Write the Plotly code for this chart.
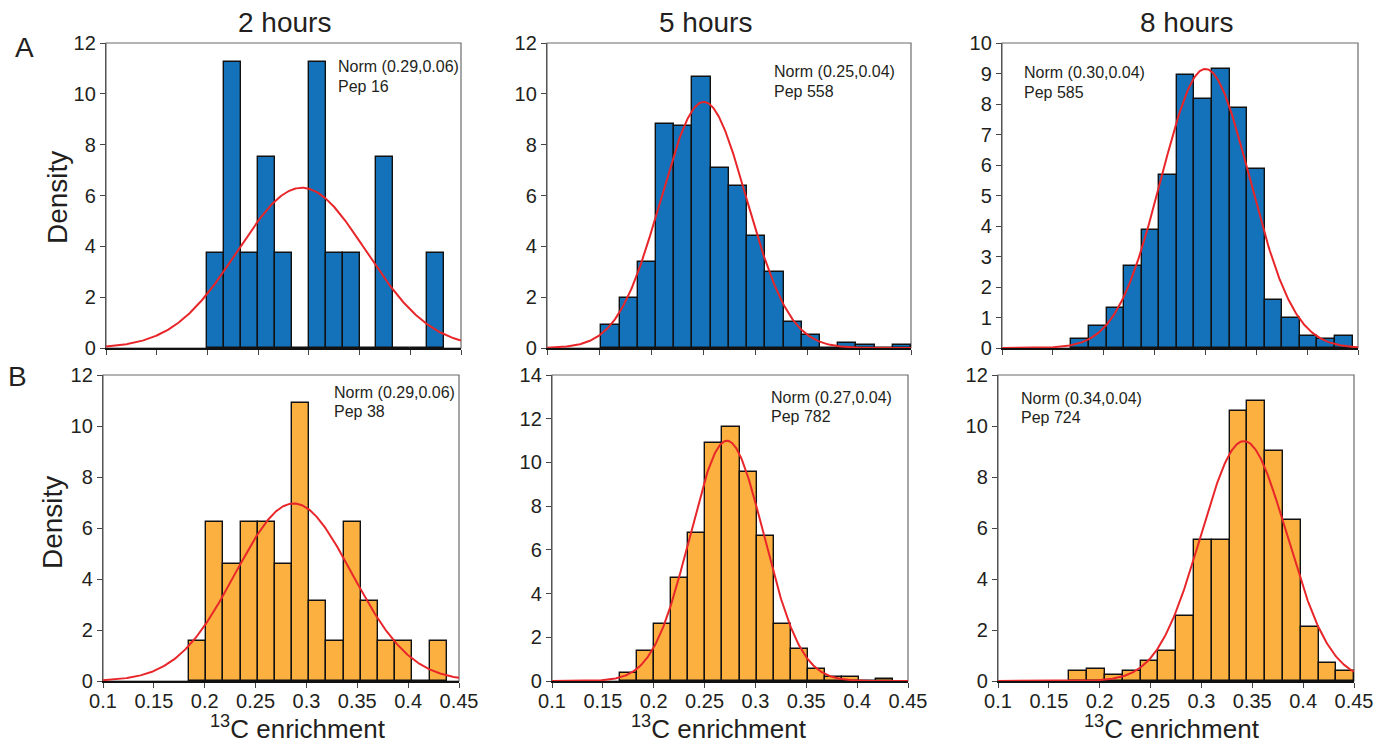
import numpy as np
import plotly.graph_objects as go

W, H = 1395, 744

# ---------------- data ----------------
col_titles = ["2 hours", "5 hours", "8 hours"]
row_labels = ["A", "B"]

# histogram bins: first left edge, bin width, densities
a1_start, a1_w = 0.2, 1 / 60
a1_vals = [3.75, 11.25, 3.75, 7.5, 3.75, 0, 11.25, 3.75, 3.75, 0, 7.5, 0, 0, 3.75]

a2_start, a2_w = 0.1523, 0.01751
a2_vals = [0.92, 1.95, 3.38, 8.83, 8.73, 10.68, 7.08, 6.37, 4.41, 2.98, 1.02, 0.52,
           0.0, 0.2, 0.12, 0.0, 0.12]

a3_start, a3_w = 0.1683, 0.01727
a3_vals = [0.30, 0.71, 1.30, 2.69, 3.88, 5.66, 8.95, 8.15, 9.14, 7.86, 5.86, 1.58,
           0.99, 0.39, 0.30, 0.39]

b1_start, b1_w = 0.1845, 0.0169
b1_vals = [1.56, 6.22, 4.58, 6.22, 6.22, 4.58, 10.89, 3.13, 1.56, 6.22, 3.13, 1.56,
           1.56, 0, 1.56]

b2_start, b2_w = 0.1668, 0.0168
b2_vals = [0.38, 1.37, 2.60, 4.72, 6.78, 10.87, 11.63, 9.57, 6.63, 2.60, 1.47, 0.55,
           0.18, 0.18, 0.0, 0.10]

b3_start, b3_w = 0.1702, 0.0175
b3_vals = [0.39, 0.47, 0.25, 0.39, 0.79, 1.18, 2.53, 5.52, 5.52, 10.59, 10.98, 9.02,
           6.31, 2.13, 0.71, 0.38]

# fitted normal curves (mean, sd)
norm_mean = [0.293, 0.2507, 0.300, 0.2874, 0.272, 0.3418]
norm_sd = [0.0633, 0.0412, 0.0436, 0.0573, 0.0363, 0.0424]

norm_text = ["Norm (0.29,0.06)", "Norm (0.25,0.04)", "Norm (0.30,0.04)",
             "Norm (0.29,0.06)", "Norm (0.27,0.04)", "Norm (0.34,0.04)"]
pep_text = ["Pep 16", "Pep 558", "Pep 585", "Pep 38", "Pep 782", "Pep 724"]

x_ticks = [0.1, 0.15, 0.2, 0.25, 0.3, 0.35, 0.4, 0.45]
x_ticklabels = ["0.1", "0.15", "0.2", "0.25", "0.3", "0.35", "0.4", "0.45"]
y_max = [12, 12, 10, 12, 14, 12]
y_step = [2, 2, 1, 2, 2, 2]

# ---------------- layout geometry (pixels) ----------------
panels_px = [
    (106, 461, 43, 348), (547, 911, 43, 348), (1002, 1358, 43, 348),
    (103, 459, 375, 681), (552, 908, 375, 681), (998, 1354, 375, 681),
]
note_px = [(336, 66), (772, 71), (1022, 72), (332, 392), (769, 397), (1019, 398)]

hist = [
    (a1_start, a1_w, a1_vals), (a2_start, a2_w, a2_vals), (a3_start, a3_w, a3_vals),
    (b1_start, b1_w, b1_vals), (b2_start, b2_w, b2_vals), (b3_start, b3_w, b3_vals),
]
fills = ["#1372B9"] * 3 + ["#FBB040"] * 3

BLACK = "#231F20"
FONT = "Liberation Sans, Arial, sans-serif"

fig = go.Figure()
layout = {}
shapes = []
annotations = []

for i in range(6):
    k = i + 1
    xa = "x" if k == 1 else f"x{k}"
    ya = "y" if k == 1 else f"y{k}"
    start, w, vals = hist[i]
    centers = [start + w * j + w / 2 for j in range(len(vals))]
    fig.add_trace(go.Bar(
        x=centers, y=vals, width=[w] * len(vals),
        marker=dict(color=fills[i], line=dict(color="#111111", width=1.4)),
        xaxis=xa, yaxis=ya, showlegend=False, hoverinfo="x+y"))
    xs = np.linspace(0.1, 0.45, 400)
    ys = np.exp(-0.5 * ((xs - norm_mean[i]) / norm_sd[i]) ** 2) / (norm_sd[i] * np.sqrt(2 * np.pi))
    fig.add_trace(go.Scatter(
        x=xs, y=ys, mode="lines", line=dict(color="#E8262A", width=2),
        xaxis=xa, yaxis=ya, showlegend=False, hoverinfo="skip"))

    x0, x1, y0, y1 = panels_px[i]
    bottom_row = i >= 3
    layout["xaxis" if k == 1 else f"xaxis{k}"] = dict(
        domain=[x0 / W, x1 / W], range=[0.1, 0.45], anchor=ya, automargin=False,
        tickvals=x_ticks, ticktext=x_ticklabels, showticklabels=bottom_row,
        ticks="outside", ticklen=5, tickcolor="#444", tickwidth=1,
        ticklabelstandoff=-4,
        showline=True, linecolor="#111111", linewidth=1.6,
        showgrid=False, zeroline=False,
        tickfont=dict(size=20, color=BLACK, family=FONT))
    layout["yaxis" if k == 1 else f"yaxis{k}"] = dict(
        domain=[1 - y1 / H, 1 - y0 / H], range=[0, y_max[i]], anchor=xa, automargin=False,
        tickvals=list(range(0, y_max[i] + 1, y_step[i])),
        ticks="outside", ticklen=5, tickcolor="#444", tickwidth=1,
        showline=True, linecolor="#555555", linewidth=1.4,
        showgrid=False, zeroline=False,
        tickfont=dict(size=20, color=BLACK, family=FONT))
    shapes.append(dict(type="rect", xref="paper", yref="paper",
                       x0=x0 / W, x1=x1 / W, y0=1 - y1 / H, y1=1 - y0 / H,
                       line=dict(color="#6b6b6b", width=1.2), layer="below"))
    nx, ny = note_px[i]
    annotations.append(dict(text=norm_text[i], x=nx / W, y=1 - ny / H, xref="paper", yref="paper",
                            xanchor="left", yanchor="middle", showarrow=False,
                            font=dict(size=16, color=BLACK, family=FONT)))
    annotations.append(dict(text=pep_text[i], x=nx / W, y=1 - (ny + 20) / H, xref="paper", yref="paper",
                            xanchor="left", yanchor="middle", showarrow=False,
                            font=dict(size=16, color=BLACK, family=FONT)))

# column titles
for t, cx in zip(col_titles, [284, 705, 1186]):
    annotations.append(dict(text=t, x=cx / W, y=1 - 23 / H, xref="paper", yref="paper",
                            xanchor="center", yanchor="middle", showarrow=False,
                            font=dict(size=28, color=BLACK, family=FONT)))
# row labels
for t, (cx, cy) in zip(row_labels, [(24, 48), (17, 376)]):
    annotations.append(dict(text=t, x=cx / W, y=1 - cy / H, xref="paper", yref="paper",
                            xanchor="center", yanchor="middle", showarrow=False,
                            font=dict(size=28, color=BLACK, family=FONT)))
# y titles
for cx, cy in [(57, 198), (52, 523)]:
    annotations.append(dict(text="Density", x=cx / W, y=1 - cy / H, xref="paper", yref="paper",
                            xanchor="center", yanchor="middle", showarrow=False, textangle=-90,
                            font=dict(size=28, color=BLACK, family=FONT)))
# x titles
for cx in [298, 719, 1172]:
    annotations.append(dict(text="<sup>13</sup>C enrichment", x=cx / W, y=1 - 727 / H,
                            xref="paper", yref="paper",
                            xanchor="center", yanchor="middle", showarrow=False,
                            font=dict(size=26, color=BLACK, family=FONT)))

fig.update_layout(
    width=W, height=H, margin=dict(l=0, r=0, t=0, b=0, autoexpand=False),
    paper_bgcolor="white", plot_bgcolor="white",
    bargap=0, barmode="overlay",
    font=dict(family=FONT, color=BLACK),
    shapes=shapes, annotations=annotations, **layout)

fig.write_html("out.html", config={"displayModeBar": False},
               post_script="document.body.style.margin='0';document.body.style.overflow='hidden';")
